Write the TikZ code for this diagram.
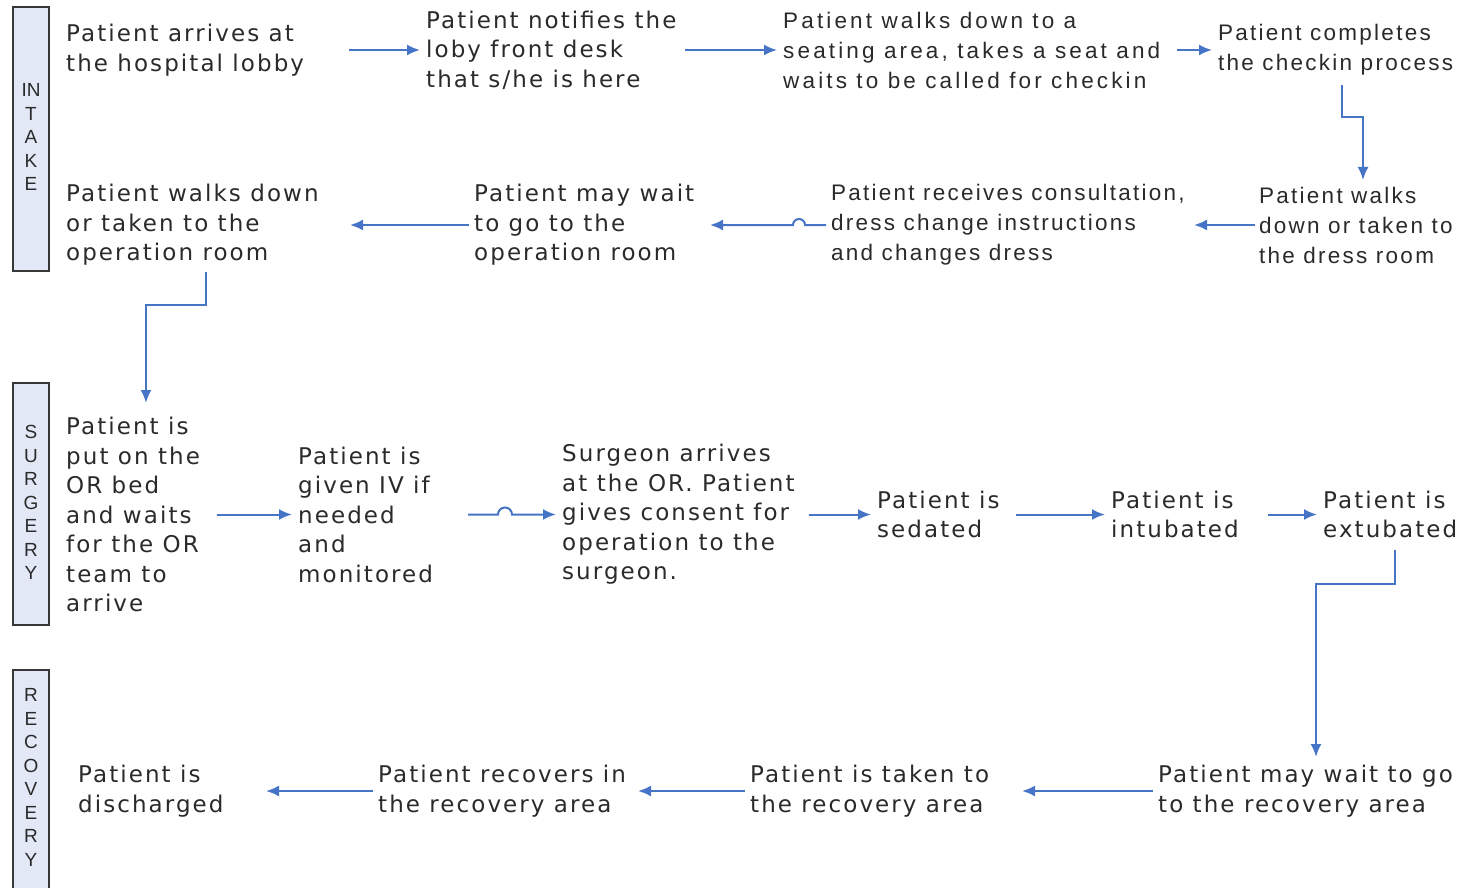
\documentclass[tikz,border=0pt]{standalone}
\usepackage{fontspec}
\usetikzlibrary{arrows.meta,calc}
\newfontfamily\vfont[LetterSpace=9]{DejaVu Sans}
\newfontfamily\afont[LetterSpace=10]{Liberation Sans}
\newfontfamily\awfont[LetterSpace=14]{Liberation Sans}
\newfontfamily\lfont{Liberation Sans}
\definecolor{txt}{HTML}{2A2A2A}
\definecolor{arrblue}{HTML}{4674C6}
\definecolor{barfill}{HTML}{E2E8F6}
\definecolor{barline}{HTML}{383838}
\begin{document}
\begin{tikzpicture}[x=1pt,y=1pt,
  vtxt/.style={anchor=west, inner sep=0pt, align=left, text=txt, font=\vfont\fontsize{23}{29.5}\selectfont},
  atxt/.style={anchor=west, inner sep=0pt, align=left, text=txt, font=\afont\fontsize{22.5}{30}\selectfont},
  awtxt/.style={atxt, font=\awfont\fontsize{22.5}{30}\selectfont},
  arr/.style={draw=arrblue, line width=2pt, -{Latex[length=13pt,width=11pt]}},
  barbox/.style={fill=barfill, draw=barline, line width=1.6pt},
  barlab/.style={inner sep=0pt, align=center, text=txt, font=\lfont\fontsize{19}{23.5}\selectfont},
]
\useasboundingbox (0,0) rectangle (1465,-888);

% phase bars
\path[barbox] (13,-7) rectangle (49,-271);
\path[barbox] (13,-383) rectangle (49,-625);
\path[barbox] (13,-892) -- (13,-670) -- (49,-670) -- (49,-892);
\node[barlab] (intake) at (31,-137) {IN\\T\\A\\K\\E};
\node[barlab] (surgery) at (31,-502.5) {S\\U\\R\\G\\E\\R\\Y};
\node[barlab] (recovery) at (31,-777.5) {R\\E\\C\\O\\V\\E\\R\\Y};

% row 1
\node[vtxt] (A1) at (66,-50) {Patient arrives at\\the hospital lobby};
\node[vtxt] (A2) at (426,-50) {Patient notifies the\\loby front desk\\that s/he is here};
\node[awtxt] (A3) at (783,-50) {Patient walks down to a\\seating area, takes a seat and\\waits to be called for checkin};
\node[atxt] (A4) at (1218,-50) {Patient completes\\the checkin process};

% row 2
\node[atxt] (B1) at (1259,-225) {Patient walks\\down or taken to\\the dress room};
\node[atxt] (B2) at (831,-225) {Patient receives consultation,\\dress change instructions\\and changes dress};
\node[vtxt] (B3) at (474,-225) {Patient may wait\\to go to the\\operation room};
\node[vtxt] (B4) at (66,-225) {Patient walks down\\or taken to the\\operation room};

% row 3
\node[vtxt] (C1) at (66,-514.5) {Patient is\\put on the\\OR bed\\and waits\\for the OR\\team to\\arrive};
\node[vtxt] (C2) at (298,-514.5) {Patient is\\given IV if\\needed\\and\\monitored};
\node[vtxt] (C3) at (562,-514.5) {Surgeon arrives\\at the OR. Patient\\gives consent for\\operation to the\\surgeon.};
\node[vtxt] (C4) at (877,-514.5) {Patient is\\sedated};
\node[vtxt] (C5) at (1111,-514.5) {Patient is\\intubated};
\node[vtxt] (C6) at (1323,-514.5) {Patient is\\extubated};

% row 4
\node[vtxt] (D1) at (1158,-791) {Patient may wait to go\\to the recovery area};
\node[vtxt] (D2) at (750,-791) {Patient is taken to\\the recovery area};
\node[vtxt] (D3) at (378,-791) {Patient recovers in\\the recovery area};
\node[vtxt] (D4) at (78,-791) {Patient is\\discharged};

% connectors row 1
\draw[arr] ($(A1.west)+(283,0)$) -- ($(A2.west)+(-6,0)$);
\draw[arr] ($(A2.west)+(259,0)$) -- ($(A3.west)+(-6,0)$);
\draw[arr] ($(A3.west)+(394,0)$) -- ($(A4.west)+(-6,0)$);
\draw[arr] ($(A4.west)+(124,-35)$) -- ++(0,-32) -| ($(B1.west)+(104,45)$);

% connectors row 2
\draw[arr] ($(B1.west)+(-4,0)$) -- ($(B2.west)+(363,0)$);
\draw[arr] ($(B2.west)+(-5,0)$) -- ($(B2.west)+(-26,0)$) arc[start angle=0, end angle=180, radius=6] -- ($(B3.west)+(236,0)$);
\draw[arr] ($(B3.west)+(-5,0)$) -- ($(B4.west)+(284,0)$);
\draw[arr] ($(B4.west)+(140,-47)$) -- ++(0,-33) -| ($(C1.west)+(80,111.5)$);

% connectors row 3
\draw[arr] ($(C1.west)+(151,0)$) -- ($(C2.west)+(-6,0)$);
\draw[arr] ($(C2.west)+(170,0)$) -- ($(C2.west)+(200,0)$) arc[start angle=180, end angle=0, radius=7] -- ($(C3.west)+(-6,0)$);
\draw[arr] ($(C3.west)+(247,0)$) -- ($(C4.west)+(-6,0)$);
\draw[arr] ($(C4.west)+(139,0)$) -- ($(C5.west)+(-6,0)$);
\draw[arr] ($(C5.west)+(157,0)$) -- ($(C6.west)+(-6,0)$);
\draw[arr] ($(C6.west)+(72,-35.5)$) -- ++(0,-34) -| ($(D1.west)+(158,34)$);

% connectors row 4
\draw[arr] ($(D1.west)+(-5,0)$) -- ($(D2.west)+(272,0)$);
\draw[arr] ($(D2.west)+(-5,0)$) -- ($(D3.west)+(260,0)$);
\draw[arr] ($(D3.west)+(-5,0)$) -- ($(D4.west)+(188,0)$);
\end{tikzpicture}
\end{document}
